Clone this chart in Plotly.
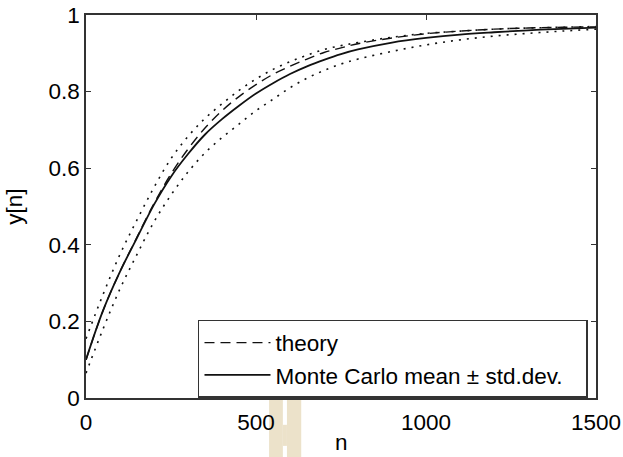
import plotly.graph_objects as go

# ---- data ----
n = [0, 50, 100, 150, 200, 250, 300, 350, 400, 450, 500, 550, 600, 650, 700,
     750, 800, 900, 1000, 1100, 1200, 1300, 1400, 1500]

theory = [0.100, 0.228, 0.330, 0.420, 0.508, 0.585, 0.650, 0.705, 0.750, 0.787,
          0.818, 0.845, 0.866, 0.885, 0.902, 0.914, 0.925, 0.940, 0.951, 0.958,
          0.963, 0.966, 0.968, 0.969]

mc_mean = [0.100, 0.228, 0.330, 0.418, 0.505, 0.578, 0.637, 0.688, 0.728, 0.763,
           0.795, 0.822, 0.846, 0.866, 0.883, 0.898, 0.910, 0.928, 0.940, 0.949,
           0.955, 0.960, 0.964, 0.967]

mc_upper = [0.155, 0.270, 0.375, 0.465, 0.550, 0.625, 0.683, 0.730, 0.768, 0.803,
            0.833, 0.858, 0.878, 0.895, 0.910, 0.920, 0.928, 0.942, 0.952, 0.958,
            0.963, 0.966, 0.968, 0.970]

mc_lower = [0.065, 0.180, 0.285, 0.375, 0.460, 0.530, 0.590, 0.640, 0.680, 0.715,
            0.750, 0.780, 0.810, 0.835, 0.855, 0.872, 0.885, 0.905, 0.922, 0.935,
            0.945, 0.952, 0.958, 0.963]

x_ticks = [0, 500, 1000, 1500]
y_ticks = [0, 0.2, 0.4, 0.6, 0.8, 1]
x_label = "n"
y_label = "y[n]"

FONT = "Liberation Sans, Arial, Helvetica, sans-serif"
INK = "#111111"
FS = 22.5
PAD = "\u00a0\u00a0\u00a0"

fig = go.Figure()
fig.add_trace(go.Scatter(x=n, y=mc_upper, mode="lines", line=dict(color=INK, width=1.6, dash="2px,6px", shape="spline"),
                         showlegend=False, hoverinfo="skip"))
fig.add_trace(go.Scatter(x=n, y=mc_lower, mode="lines", line=dict(color=INK, width=1.6, dash="2px,6px", shape="spline"),
                         showlegend=False, hoverinfo="skip"))
fig.add_trace(go.Scatter(x=n, y=theory, mode="lines", name="theory",
                         line=dict(color=INK, width=1.4, dash="10px,6px", shape="spline")))
fig.add_trace(go.Scatter(x=n, y=mc_mean, mode="lines", name="Monte Carlo mean \u00b1 std.dev." + PAD,
                         line=dict(color=INK, width=1.8, shape="spline")))

# beige watermark artefact below the axis
beige = "#ece2ca"
for x0, x1, y0, y1 in [(0.359, 0.386, -0.16, 0.03), (0.394, 0.422, -0.16, 0.03), (0.386, 0.394, -0.125, -0.07)]:
    fig.add_shape(type="rect", xref="paper", yref="paper", x0=x0, x1=x1, y0=y0, y1=y1,
                  fillcolor=beige, line=dict(width=0), layer="below")

axis_common = dict(showline=True, linecolor="#333333", linewidth=1.5, mirror="ticks",
                   ticks="inside", ticklen=5, tickwidth=1.2, tickcolor="#333333",
                   showgrid=False, zeroline=False, automargin=False,
                   tickfont=dict(family=FONT, size=FS, color="#000"))

fig.update_xaxes(range=[0, 1500], tickvals=x_ticks, ticklabelstandoff=3, **axis_common)
fig.update_yaxes(range=[0, 1], tickvals=y_ticks, **axis_common,
                 title=dict(text=y_label, font=dict(family=FONT, size=FS, color="#000"), standoff=20))

fig.add_annotation(text=x_label, xref="paper", yref="paper", x=0.5, y=-0.115,
                   xanchor="center", yanchor="middle", showarrow=False,
                   font=dict(family=FONT, size=FS, color="#000"))

fig.update_layout(
    width=623, height=457,
    margin=dict(l=86, r=27, t=15, b=59),
    paper_bgcolor="white", plot_bgcolor="rgba(0,0,0,0)",
    font=dict(family=FONT, size=FS, color="#000"),
    legend=dict(x=0.2196, y=0.2037, xanchor="left", yanchor="top",
                bgcolor="white", bordercolor="#333333", borderwidth=1.5,
                font=dict(family=FONT, size=FS, color="#000"), itemwidth=66,
                tracegroupgap=0),
    showlegend=True,
)

fig.write_html("out.html")
